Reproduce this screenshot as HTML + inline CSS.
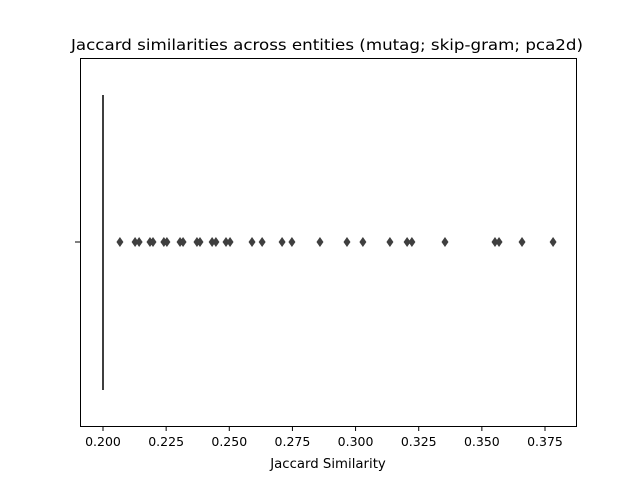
<!DOCTYPE html>
<html><head><meta charset="utf-8"><style>body{margin:0;background:#fff}svg{display:block;font-family:"DejaVu Sans","Liberation Sans",sans-serif}</style></head>
<body>
<svg id="c" width="640" height="480">
<rect x="80.5" y="58.5" width="496" height="368" fill="none" stroke="#000" stroke-width="1"/>
<text x="327" y="50" text-anchor="middle" font-size="15.5" textLength="512" lengthAdjust="spacingAndGlyphs">Jaccard similarities across entities (mutag; skip-gram; pca2d)</text>
<text x="328" y="468" text-anchor="middle" font-size="13.3">Jaccard Similarity</text>
<line x1="75" y1="242" x2="80" y2="242" stroke="#000"/>
<g id="ticks"></g><g id="marks"></g>
</svg>
<script>
const tickValues=[0.2,0.225,0.25,0.275,0.3,0.325,0.35,0.375];
const tickLabels=["0.200","0.225","0.250","0.275","0.300","0.325","0.350","0.375"];
const boxMin=0.2, boxMax=0.2;
const outliers=[0.2067,0.2127,0.2143,0.2186,0.2198,0.2241,0.2253,0.2305,0.2317,0.2372,0.2384,0.2432,0.2447,0.2487,0.2503,0.259,0.263,0.2709,0.2748,0.2859,0.2966,0.3029,0.3136,0.3204,0.3223,0.3354,0.3552,0.3568,0.3659,0.3782];
const ns="http://www.w3.org/2000/svg";
function x(v){return 103+(v-0.2)*(442/0.175);}
const T=document.getElementById('ticks'),M=document.getElementById('marks');
tickValues.forEach((v,i)=>{
 const l=document.createElementNS(ns,'line');
 l.setAttribute('x1',x(v));l.setAttribute('x2',x(v));l.setAttribute('y1',426);l.setAttribute('y2',431);l.setAttribute('stroke','#000');
 
 
 T.appendChild(l);
 const t=document.createElementNS(ns,'text');
 t.setAttribute('x',x(v));t.setAttribute('y',446);t.setAttribute('text-anchor','middle');t.setAttribute('font-size','12.5');
 t.textContent=tickLabels[i];
 
 
 T.appendChild(t);
});
const b=document.createElementNS(ns,'rect');
b.setAttribute('x',x(boxMin)-1);b.setAttribute('width',Math.max(2,x(boxMax)-x(boxMin)+2));b.setAttribute('y',95);b.setAttribute('height',295);b.setAttribute('fill','#3f3f3f');


M.appendChild(b);
outliers.forEach(v=>{
 const p=document.createElementNS(ns,'polygon');
 const cx=x(v),cy=242;
 p.setAttribute('points',`${cx},${cy-5} ${cx+3.5},${cy} ${cx},${cy+5} ${cx-3.5},${cy}`);
 p.setAttribute('fill','#3f3f3f');
 
 
 M.appendChild(p);
});
</script>
</body></html>
